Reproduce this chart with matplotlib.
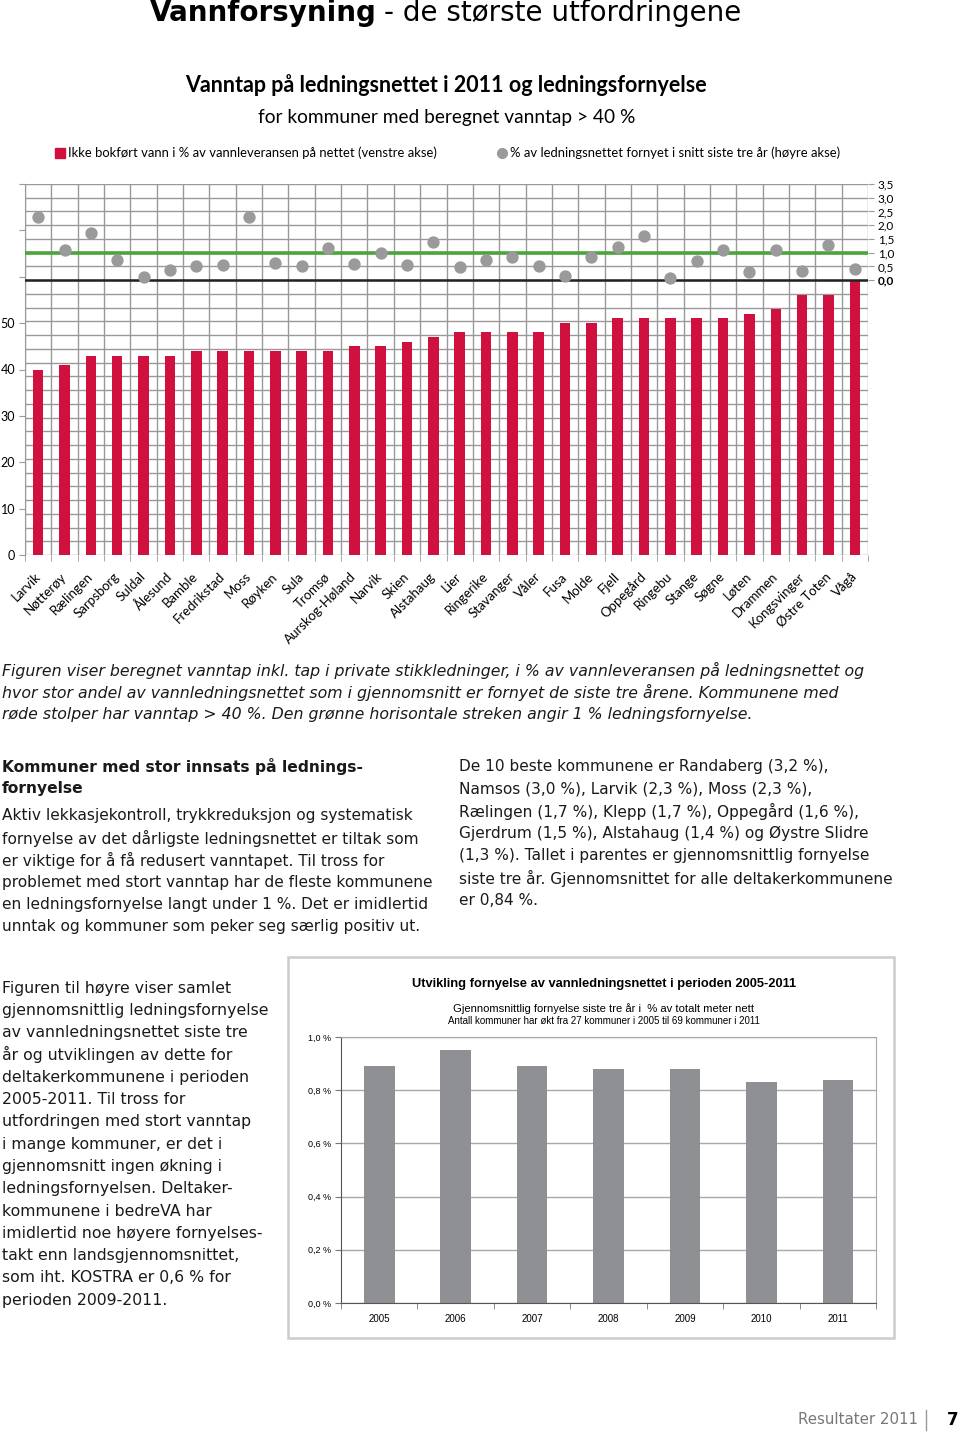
import numpy as np
import matplotlib
matplotlib.use("Agg")
import matplotlib.pyplot as plt
from matplotlib.patches import Rectangle
from matplotlib.lines import Line2D
from matplotlib.transforms import blended_transform_factory

# --- data: vanntap og fornyelse per kommune (2011)
kommuner = ["Larvik", "Nøtterøy", "Rælingen", "Sarpsborg", "Suldal", "Ålesund", "Bamble",
            "Fredrikstad", "Moss", "Røyken", "Sula", "Tromsø", "Aurskog-Høland", "Narvik",
            "Skien", "Alstahaug", "Lier", "Ringerike", "Stavanger", "Våler", "Fusa", "Molde",
            "Fjell", "Oppegård", "Ringebu", "Stange", "Søgne", "Løten", "Drammen",
            "Kongsvinger", "Østre Toten", "Vågå"]
vanntap = [40, 41, 43, 43, 43, 43, 44, 44, 44, 44, 44, 44, 45, 45, 46, 47, 48, 48, 48, 48,
           50, 50, 51, 51, 51, 51, 51, 52, 53, 56, 56, 59]
fornyelse = [2.3, 1.1, 1.7, 0.73, 0.13, 0.36, 0.51, 0.57, 2.3, 0.64, 0.51, 1.18, 0.58, 0.98,
             0.56, 1.4, 0.47, 0.75, 0.84, 0.53, 0.15, 0.84, 1.19, 1.6, 0.09, 0.69, 1.09,
             0.29, 1.09, 0.34, 1.29, 0.39]
left_ticks = [0, 10, 20, 30, 40, 50]
right_ticks = [0.0, 0.5, 1.0, 1.5, 2.0, 2.5, 3.0, 3.5]

# --- data: utvikling fornyelse 2005-2011
aar = ["2005", "2006", "2007", "2008", "2009", "2010", "2011"]
snitt_fornyelse = [0.89, 0.95, 0.89, 0.88, 0.88, 0.83, 0.84]
pct_ticks = [0.0, 0.2, 0.4, 0.6, 0.8, 1.0]

W, H = 960, 1433
RED = "#d0103f"
DOT = "#9a9a9a"
GRID = "#999999"
TXT = "#1a1a1a"
CHART_FONT = "Lato"
BODY_FONT = "DejaVu Sans"


def fx(x):
    return x / W


def fy(y):
    return 1 - y / H


def comma(v, dec=1):
    return f"{v:.{dec}f}".replace(".", ",")


fig = plt.figure(figsize=(W / 100, H / 100), dpi=100)

# page title
fig.text(fx(150), fy(13), "Vannforsyning", fontsize=20, fontweight="bold",
         family=BODY_FONT, va="center", ha="left", color="black")
fig.text(fx(384), fy(13), "- de største utfordringene", fontsize=20,
         family=BODY_FONT, va="center", ha="left", color="black")

# chart title
fig.text(fx(446), fy(85), "Vanntap på ledningsnettet i 2011 og ledningsfornyelse",
         fontsize=15.5, fontweight="bold", family=CHART_FONT, ha="center", va="center")
fig.text(fx(447), fy(118), "for kommuner med beregnet vanntap > 40 %",
         fontsize=13.8, family=CHART_FONT, ha="center", va="center")

# --- top chart
ax = fig.add_axes([fx(25), fy(555), fx(868) - fx(25), fy(184) - fy(555)])
ax2 = ax.twinx()
x = np.arange(len(kommuner))

# gridlines follow the right axis (step 0.5 from -10 to 3.5)
grid_tr = blended_transform_factory(ax.transAxes, ax2.transData)
ax2.set_ylim(-10, 3.5)
ax.set_ylim(0, 80)
ax.hlines(np.arange(-10, 3.51, 0.5), 0, 1, transform=grid_tr, color=GRID, lw=1, zorder=0)
ax.vlines(np.arange(-0.5, len(kommuner), 1), 0, 80, color=GRID, lw=1, zorder=0)

ax.bar(x, vanntap, width=0.4, color=RED, zorder=2)
ax2.axhline(0, color="#222222", lw=1.8, zorder=1)
ax2.axhline(1.0, color="#4ea43c", lw=2.6, zorder=2)
ax2.scatter(x, fornyelse, s=62, color=DOT, zorder=3)

ax.set_xlim(-0.5, len(kommuner) - 0.5)
ax.set_xticks(x)
ax.set_xticklabels(kommuner, rotation=45, ha="right", va="center", rotation_mode="anchor",
                   fontsize=9.5, family=CHART_FONT)
ax.tick_params(axis="x", length=0, pad=14)
ax.set_xticks(np.arange(-0.5, len(kommuner), 1), minor=True)
ax.tick_params(axis="x", which="minor", length=4, color=GRID)

ax.set_yticks(np.arange(0, 81, 10))
ax.set_yticklabels([str(v) if v in left_ticks else "" for v in range(0, 81, 10)],
                   fontsize=9, family=CHART_FONT)
ax.tick_params(axis="y", length=4, color=GRID, pad=3)

ax2.set_yticks(right_ticks)
ax2.set_yticklabels([comma(v) for v in right_ticks], fontsize=8.5, family=CHART_FONT)
ax2.get_yticklabels()[0].set_fontweight("bold")
ax2.tick_params(axis="y", length=4, color=GRID, pad=3)

for a in (ax, ax2):
    for s in a.spines.values():
        s.set_visible(False)
ax.spines["left"].set_visible(True)
ax.spines["left"].set_color(GRID)

# legend row above the chart
fig.add_artist(Line2D([fx(60)], [fy(153)], marker="s", ms=7, color=RED, ls="",
                      transform=fig.transFigure))
fig.text(fx(68), fy(153), "Ikke bokført vann i % av vannleveransen på nettet (venstre akse)",
         fontsize=9.4, family=CHART_FONT, va="center", ha="left")
fig.add_artist(Line2D([fx(502)], [fy(153)], marker="o", ms=7, color=DOT, ls="",
                      transform=fig.transFigure))
fig.text(fx(510), fy(153), "% av ledningsnettet fornyet i snitt siste tre år (høyre akse)",
         fontsize=9.4, family=CHART_FONT, va="center", ha="left")

# caption
caption = [
    "Figuren viser beregnet vanntap inkl. tap i private stikkledninger, i % av vannleveransen på ledningsnettet og",
    "hvor stor andel av vannledningsnettet som i gjennomsnitt er fornyet de siste tre årene. Kommunene med",
    "røde stolper har vanntap > 40 %. Den grønne horisontale streken angir 1 % ledningsfornyelse.",
]
for i, line in enumerate(caption):
    fig.text(fx(2), fy(670 + i * 22), line, fontsize=11.35, style="italic",
             family=BODY_FONT, va="center", ha="left", color=TXT)

# two text columns
fig.text(fx(2), fy(767), "Kommuner med stor innsats på lednings-", fontsize=11.2,
         fontweight="bold", family=BODY_FONT, va="center", color=TXT)
fig.text(fx(2), fy(789), "fornyelse", fontsize=11.2, fontweight="bold",
         family=BODY_FONT, va="center", color=TXT)
left_col = [
    "Aktiv lekkasjekontroll, trykkreduksjon og systematisk",
    "fornyelse av det dårligste ledningsnettet er tiltak som",
    "er viktige for å få redusert vanntapet. Til tross for",
    "problemet med stort vanntap har de fleste kommunene",
    "en ledningsfornyelse langt under 1 %. Det er imidlertid",
    "unntak og kommuner som peker seg særlig positiv ut.",
]
for i, line in enumerate(left_col):
    fig.text(fx(2), fy(816 + i * 22.2), line, fontsize=11.05, family=BODY_FONT,
             va="center", color=TXT)

right_col = [
    "De 10 beste kommunene er Randaberg (3,2 %),",
    "Namsos (3,0 %), Larvik (2,3 %), Moss (2,3 %),",
    "Rælingen (1,7 %), Klepp (1,7 %), Oppegård (1,6 %),",
    "Gjerdrum (1,5 %), Alstahaug (1,4 %) og Øystre Slidre",
    "(1,3 %). Tallet i parentes er gjennomsnittlig fornyelse",
    "siste tre år. Gjennomsnittet for alle deltakerkommunene",
    "er 0,84 %.",
]
for i, line in enumerate(right_col):
    fig.text(fx(459), fy(767 + i * 22.2), line, fontsize=11.05, family=BODY_FONT,
             va="center", color=TXT)

bottom_col = [
    "Figuren til høyre viser samlet",
    "gjennomsnittlig ledningsfornyelse",
    "av vannledningsnettet siste tre",
    "år og utviklingen av dette for",
    "deltakerkommunene i perioden",
    "2005-2011. Til tross for",
    "utfordringen med stort vanntap",
    "i mange kommuner, er det i",
    "gjennomsnitt ingen økning i",
    "ledningsfornyelsen. Deltaker-",
    "kommunene i bedreVA har",
    "imidlertid noe høyere fornyelses-",
    "takt enn landsgjennomsnittet,",
    "som iht. KOSTRA er 0,6 % for",
    "perioden 2009-2011.",
]
for i, line in enumerate(bottom_col):
    fig.text(fx(2), fy(988 + i * 22.3), line, fontsize=11.3, family=BODY_FONT,
             va="center", color=TXT)

# --- bottom chart, inside a framed box
fig.add_artist(Rectangle((fx(288), fy(1338)), fx(894) - fx(288), fy(957) - fy(1338),
                         transform=fig.transFigure, fill=False, ec="#cccccc", lw=1.8))
fig.text(fx(604), fy(984), "Utvikling fornyelse av vannledningsnettet i perioden 2005-2011",
         fontsize=9.3, fontweight="bold", family="Liberation Sans", ha="center", va="center")
fig.text(fx(604), fy(1009), "Gjennomsnittlig fornyelse siste tre år i  % av totalt meter nett",
         fontsize=8.1, family="Liberation Sans", ha="center", va="center")
fig.text(fx(604), fy(1021), "Antall kommuner har økt fra 27 kommuner i 2005 til 69 kommuner i 2011",
         fontsize=7.0, family="Liberation Sans", ha="center", va="center")

bx = fig.add_axes([fx(341), fy(1303), fx(876) - fx(341), fy(1037) - fy(1303)])
xb = np.arange(len(aar))
bx.set_ylim(0, 1.0)
bx.set_xlim(-0.5, len(aar) - 0.5)
bx.set_yticks(pct_ticks)
bx.set_yticklabels([comma(v) + " %" for v in pct_ticks], fontsize=6.5, family="Liberation Sans")
bx.yaxis.grid(True, color="#a8a8a8", lw=1)
bx.set_axisbelow(True)
bx.bar(xb, snitt_fornyelse, width=0.4, color="#8f9093", zorder=2)
bx.set_xticks(xb)
bx.set_xticklabels(aar, fontsize=7, family="Liberation Sans")
bx.tick_params(axis="x", length=0, pad=8)
bx.set_xticks(np.arange(-0.5, len(aar), 1), minor=True)
bx.tick_params(axis="x", which="minor", length=4, color="#777777")
bx.tick_params(axis="y", length=4, color="#777777", pad=3)
for s in bx.spines.values():
    s.set_color("#a8a8a8")
bx.spines["left"].set_color("#555555")
bx.spines["bottom"].set_color("#555555")

# footer
fig.text(fx(918), fy(1420), "Resultater 2011", fontsize=10.8, family=BODY_FONT,
         color="#777777", ha="right", va="center")
fig.add_artist(Line2D([fx(926), fx(926)], [fy(1410), fy(1430)], color="#999999", lw=1,
                      transform=fig.transFigure))
fig.text(fx(953), fy(1420), "7", fontsize=12, fontweight="bold", family=BODY_FONT,
         color="black", ha="center", va="center")

fig.savefig("out.png", dpi=100)
